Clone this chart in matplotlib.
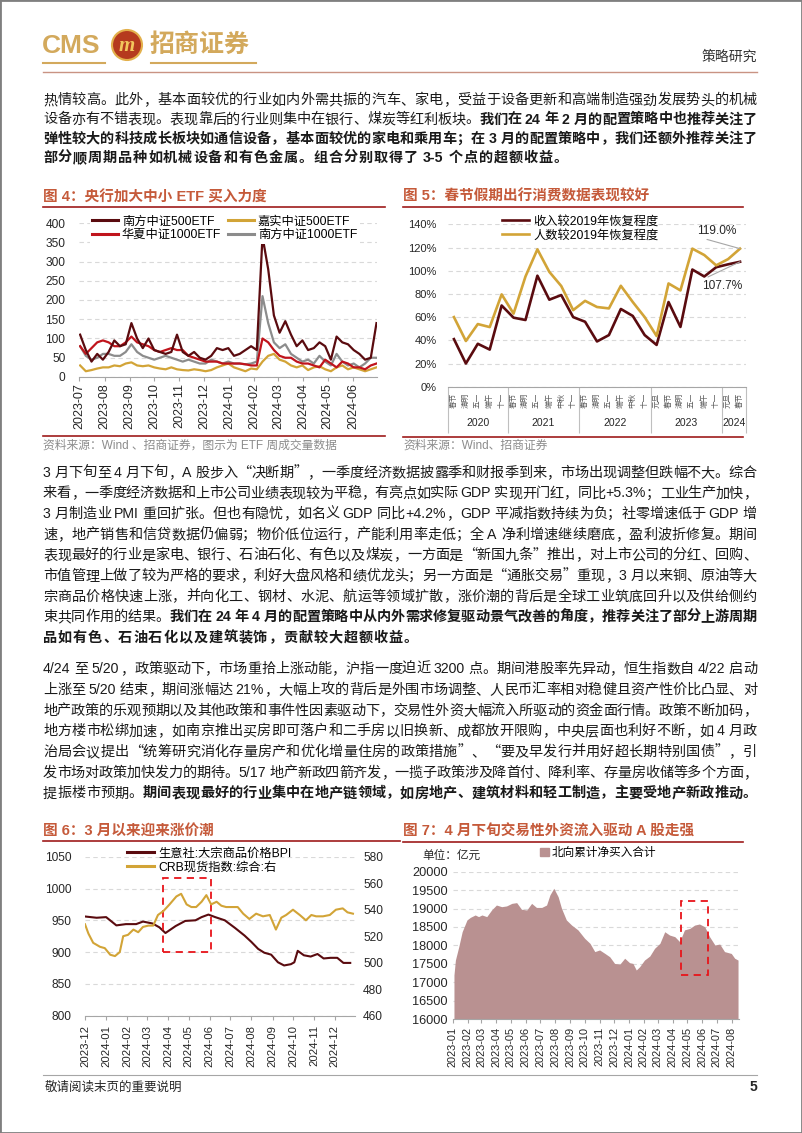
import matplotlib
matplotlib.use('Agg')
import matplotlib.pyplot as plt
import matplotlib.dates as mdates
from matplotlib.patches import Rectangle, Ellipse, Patch
from matplotlib.lines import Line2D
from matplotlib.font_manager import FontProperties
import pandas as pd

plt.rcParams['font.family'] = ['Liberation Sans', 'Noto Sans CJK SC']
plt.rcParams['axes.unicode_minus'] = False

# ---------------- data ----------------
# fig 4: weekly ETF turnover
etf_weeks = pd.date_range('2023-07-02', periods=53, freq='7D')
nf500 = [110, 70, 40, 60, 45, 65, 95, 80, 85, 140, 100, 75, 100, 70, 65, 60, 65, 110, 65, 55,
         65, 50, 45, 55, 75, 70, 75, 55, 60, 70, 80, 70, 365, 280, 160, 115, 145, 110, 80, 95,
         70, 75, 90, 80, 45, 105, 90, 85, 70, 60, 45, 50, 140]
hx1000 = [80, 60, 75, 90, 95, 90, 80, 80, 90, 105, 90, 85, 80, 70, 65, 70, 75, 70, 70, 55,
          50, 45, 40, 40, 40, 35, 35, 35, 35, 33, 30, 30, 100, 90, 70, 55, 50, 50, 40, 35,
          35, 30, 25, 45, 35, 25, 40, 35, 25, 25, 20, 30, 35]
js500 = [30, 15, 18, 22, 25, 25, 30, 28, 35, 38, 30, 28, 30, 25, 22, 20, 25, 20, 18, 17,
         20, 18, 15, 18, 25, 30, 35, 25, 20, 15, 22, 20, 40, 55, 60, 45, 40, 30, 25, 30,
         18, 25, 28, 20, 15, 25, 30, 20, 25, 20, 15, 20, 25]
nf1000 = [80, 55, 45, 50, 60, 60, 55, 55, 65, 85, 65, 55, 50, 45, 50, 55, 50, 45, 40, 45,
          40, 35, 35, 45, 40, 35, 40, 35, 35, 33, 35, 40, 210, 140, 90, 75, 85, 60, 50, 40,
          45, 35, 55, 40, 30, 60, 40, 30, 35, 25, 35, 50, 50]
etf_ticks = pd.date_range('2023-07-01', '2024-06-01', freq='MS')

# fig 5: holiday travel recovery vs 2019 (%)
holidays = ['春节', '清明', '五一', '端午', '十一',
            '春节', '清明', '五一', '端午', '中秋', '十一',
            '春节', '清明', '五一', '端午', '中秋', '十一',
            '元旦', '春节', '清明', '五一', '端午', '十一',
            '元旦', '春节']
years = ['2020', '2021', '2022', '2023', '2024']
year_sizes = [5, 6, 6, 6, 2]
income_rec = [41, 20, 37, 32, 70, 59.5, 57.5, 95.7, 75, 79, 60, 56, 39, 44.5, 67, 61, 44.5,
              36, 73, 51.5, 101, 95, 103, 105.5, 107.7]
people_rec = [60, 39.4, 54, 51.4, 79.6, 63, 95, 118.4, 99, 86.8, 66, 74, 68.7, 67.5, 87, 73,
              60, 43.7, 89, 83, 119, 113.5, 104.6, 110, 119.0]

# fig 6: BPI (left) and CRB spot index (right)
bpi_dates = pd.to_datetime(['2023-12-01', '2023-12-18', '2024-01-01', '2024-01-16', '2024-01-30',
                            '2024-02-14', '2024-02-24', '2024-03-09', '2024-03-19', '2024-03-28',
                            '2024-04-12', '2024-04-26', '2024-05-11', '2024-05-20', '2024-05-30',
                            '2024-06-09', '2024-06-23', '2024-07-08', '2024-07-22', '2024-08-01',
                            '2024-08-11', '2024-08-20', '2024-08-30', '2024-09-09', '2024-09-18',
                            '2024-09-28', '2024-10-03', '2024-10-08', '2024-10-17', '2024-10-27',
                            '2024-11-06', '2024-11-15', '2024-11-25', '2024-12-05', '2024-12-14',
                            '2024-12-24'])
bpi = [956, 954, 955, 942, 944, 944, 948, 945, 939, 930, 941, 949, 950, 955, 959, 955, 950,
       938, 926, 916, 905, 899, 896, 884, 879, 881, 884, 902, 895, 893, 897, 890, 891, 891,
       883, 883]
crb_dates = pd.to_datetime(['2023-12-01', '2023-12-06', '2023-12-13', '2023-12-23', '2023-12-30',
                            '2024-01-07', '2024-01-14', '2024-01-21', '2024-01-26', '2024-02-02',
                            '2024-02-10', '2024-02-17', '2024-02-24', '2024-03-03', '2024-03-10',
                            '2024-03-17', '2024-03-25', '2024-04-03', '2024-04-13', '2024-04-20',
                            '2024-04-28', '2024-05-05', '2024-05-12', '2024-05-20', '2024-05-27',
                            '2024-06-03', '2024-06-11', '2024-06-18', '2024-06-25', '2024-07-05',
                            '2024-07-12', '2024-07-20', '2024-07-29', '2024-08-08', '2024-08-18',
                            '2024-08-28', '2024-09-06', '2024-09-14', '2024-09-21', '2024-10-01',
                            '2024-10-11', '2024-10-20', '2024-10-28', '2024-11-04', '2024-11-14',
                            '2024-11-24', '2024-12-03', '2024-12-13', '2024-12-20', '2024-12-28'])
crb = [529, 522, 515, 512, 511, 506, 505, 508, 520, 521, 525, 523, 527, 528, 528, 536, 539,
       544, 550, 552, 544, 542, 542, 546, 551, 544, 546, 543, 542, 542, 542, 537, 533, 537,
       535, 536, 525, 534, 536, 540, 536, 532, 536, 535, 535, 536, 540, 541, 538, 537]

# fig 7: northbound cumulative net buy (100m yuan)
nb_dates = pd.to_datetime(['2023-01-03', '2023-01-06', '2023-01-13', '2023-01-20', '2023-01-30',
                           '2023-02-06', '2023-02-16', '2023-02-23', '2023-03-02', '2023-03-12',
                           '2023-03-22', '2023-04-01', '2023-04-12', '2023-04-22', '2023-05-03',
                           '2023-05-13', '2023-05-23', '2023-06-03', '2023-06-13', '2023-06-23',
                           '2023-07-04', '2023-07-14', '2023-07-21', '2023-07-29', '2023-08-07',
                           '2023-08-14', '2023-08-24', '2023-09-04', '2023-09-17', '2023-10-01',
                           '2023-10-12', '2023-10-22', '2023-11-01', '2023-11-12', '2023-11-22',
                           '2023-12-02', '2023-12-13', '2023-12-23', '2024-01-02', '2024-01-09',
                           '2024-01-16', '2024-01-23', '2024-02-02', '2024-02-13', '2024-02-23',
                           '2024-03-05', '2024-03-15', '2024-03-25', '2024-04-05', '2024-04-15',
                           '2024-04-25', '2024-05-06', '2024-05-16', '2024-05-26', '2024-06-06',
                           '2024-06-16', '2024-06-27', '2024-07-07', '2024-07-17', '2024-07-31',
                           '2024-08-07', '2024-08-14'])
nb_value = [17195, 17600, 17965, 18370, 18690, 18760, 18825, 18780, 18825, 18780, 18960, 19095,
            19050, 19070, 19140, 19160, 18980, 18960, 19140, 19030, 19030, 19095, 19370, 19550,
            19320, 19005, 18690, 18550, 18420, 18190, 18055, 17830, 17875, 17780, 17690, 17510,
            17490, 17650, 17530, 17510, 17330, 17420, 17600, 17710, 17920, 18055, 18370, 18280,
            18235, 18100, 18420, 18460, 18550, 18580, 18505, 18235, 18010, 18035, 17830, 17780,
            17650, 17600]

# ---------------- style ----------------
W, H = 802, 1133
GOLD_LOGO = '#D3A95C'
TITLE_C = '#C55A3A'
RULE_C = '#9E1B1B'
TEXT_C = '#1a1a1a'
DARK = '#5A0B0F'
GOLD = '#D2A437'
RED = '#C0141C'
GRAY = '#8C8C8C'
NB_C = '#B99191'
GRID_C = '#d9d9d9'
AXIS_C = '#a6a6a6'

fig = plt.figure(figsize=(W / 100, H / 100), dpi=100)
renderer = fig.canvas.get_renderer()


def fx(x):
    return x / W


def fy(y):
    return 1 - y / H


def ax_at(l, t, r, b):
    return fig.add_axes([fx(l), fy(b), (r - l) / W, (b - t) / H])


def hline(x0, x1, y, color, lw):
    fig.add_artist(Line2D([fx(x0), fx(x1)], [fy(y), fy(y)], color=color, lw=lw))


# ---------------- header ----------------
fig.add_artist(Rectangle((0, 0), 1, 1, transform=fig.transFigure, fill=False,
                         edgecolor='#7f7f7f', lw=2))
fig.text(fx(42), fy(46), 'CMS', fontsize=19, weight='bold', color=GOLD_LOGO,
         family='Liberation Sans', ha='left', va='center')
fig.add_artist(Ellipse((fx(127), fy(45)), 30 / W, 30 / H, transform=fig.transFigure,
                       facecolor='#B53A1E', edgecolor='#E3B04B', lw=1.5))
fig.text(fx(127), fy(46), 'm', fontsize=15, weight='bold', style='italic', color='#F2C75C',
         family='Liberation Serif', ha='center', va='center')
fig.text(fx(150), fy(45), '招商证券', fontsize=18, weight='bold', color=GOLD_LOGO,
         family='Noto Sans CJK SC', ha='left', va='center')
hline(43, 105, 63, GOLD_LOGO, 1.5)
hline(151, 256, 63, GOLD_LOGO, 1.5)
fig.text(fx(757), fy(57), '策略研究', fontsize=10, color='#333333',
         family='Noto Sans CJK SC', ha='right', va='center')
hline(43, 757, 72, '#C99383', 1.0)

# ---------------- body text ----------------
BODY = 10.2
EM = BODY * 100 / 72


def tok_split(s):
    toks, buf = [], ''
    for ch in s:
        if ord(ch) < 128 and ch != ' ':
            buf += ch
        else:
            if buf:
                toks.append(buf)
                buf = ''
            toks.append(ch)
    if buf:
        toks.append(buf)
    return toks


def tok_width(t, bold):
    if t == ' ':
        return EM * 0.22
    if ord(t[0]) >= 128:
        return EM
    fp = FontProperties(family='Liberation Sans', size=BODY, weight='bold' if bold else 'normal')
    w, h, d = renderer.get_text_width_height_descent(t, fp, ismath=False)
    return w + 1


def body_line(y, segs, justify=True, x0=43, x1=757):
    toks = []
    for s, b in segs:
        for t in tok_split(s):
            toks.append((t, b))
    widths = [tok_width(t, b) for t, b in toks]
    extra = (x1 - x0 - sum(widths)) / (len(toks) - 1) if justify else EM * 0.06
    x = x0
    for (t, b), w in zip(toks, widths):
        if t != ' ':
            fam = 'Liberation Sans' if ord(t[0]) < 128 else 'Noto Sans CJK SC'
            fig.text(fx(x), fy(y + 5.2), t, fontsize=BODY, family=fam,
                     weight='bold' if b else 'normal', color=TEXT_C, ha='left', va='baseline')
        x += w + extra


R, B = False, True
para1 = [
    ([('热情较高。此外，基本面较优的行业如内外需共振的汽车、家电，受益于设备更新和高端制造强劲发展势头的机械', R)], True),
    ([('设备亦有不错表现。表现靠后的行业则集中在银行、煤炭等红利板块。', R),
      ('我们在 24 年 2 月的配置策略中也推荐关注了', B)], True),
    ([('弹性较大的科技成长板块如通信设备，基本面较优的家电和乘用车；在 3 月的配置策略中，我们还额外推荐关注了', B)], True),
    ([('部分顺周期品种如机械设备和有色金属。组合分别取得了 3-5 个点的超额收益。', B)], False),
]
para2 = [
    ([('3 月下旬至 4 月下旬，A 股步入“决断期”，一季度经济数据披露季和财报季到来，市场出现调整但跌幅不大。综合', R)], True),
    ([('来看，一季度经济数据和上市公司业绩表现较为平稳，有亮点如实际 GDP 实现开门红，同比+5.3%；工业生产加快，', R)], True),
    ([('3 月制造业 PMI 重回扩张。但也有隐忧，如名义 GDP 同比+4.2%，GDP 平减指数持续为负；社零增速低于 GDP 增', R)], True),
    ([('速，地产销售和信贷数据仍偏弱；物价低位运行，产能利用率走低；全 A 净利增速继续磨底，盈利波折修复。期间', R)], True),
    ([('表现最好的行业是家电、银行、石油石化、有色以及煤炭，一方面是“新国九条”推出，对上市公司的分红、回购、', R)], True),
    ([('市值管理上做了较为严格的要求，利好大盘风格和绩优龙头；另一方面是“通胀交易”重现，3 月以来铜、原油等大', R)], True),
    ([('宗商品价格快速上涨，并向化工、钢材、水泥、航运等领域扩散，涨价潮的背后是全球工业筑底回升以及供给侧约', R)], True),
    ([('束共同作用的结果。', R),
      ('我们在 24 年 4 月的配置策略中从内外需求修复驱动景气改善的角度，推荐关注了部分上游周期', B)], True),
    ([('品如有色、石油石化以及建筑装饰，贡献较大超额收益。', B)], False),
]
para3 = [
    ([('4/24 至 5/20，政策驱动下，市场重拾上涨动能，沪指一度迫近 3200 点。期间港股率先异动，恒生指数自 4/22 启动', R)], True),
    ([('上涨至 5/20 结束，期间涨幅达 21%，大幅上攻的背后是外围市场调整、人民币汇率相对稳健且资产性价比凸显、对', R)], True),
    ([('地产政策的乐观预期以及其他政策和事件性因素驱动下，交易性外资大幅流入所驱动的资金面行情。政策不断加码，', R)], True),
    ([('地方楼市松绑加速，如南京推出买房即可落户和二手房以旧换新、成都放开限购，中央层面也利好不断，如 4 月政', R)], True),
    ([('治局会议提出“统筹研究消化存量房产和优化增量住房的政策措施”、“要及早发行并用好超长期特别国债”，引', R)], True),
    ([('发市场对政策加快发力的期待。5/17 地产新政四箭齐发，一揽子政策涉及降首付、降利率、存量房收储等多个方面，', R)], True),
    ([('提振楼市预期。', R),
      ('期间表现最好的行业集中在地产链领域，如房地产、建筑材料和轻工制造，主要受地产新政推动。', B)], True),
]
for y0, step, para in [(99, 19.3, para1), (471.7, 20.6, para2), (668, 20.7, para3)]:
    for i, (segs, just) in enumerate(para):
        body_line(y0 + i * step, segs, just)


# ---------------- chart frames ----------------
def chart_title(x, y, s, x1):
    fig.text(fx(x), fy(y), s, fontsize=10.5, weight='bold', color=TITLE_C,
             ha='left', va='center')
    hline(x, x1, y + 9.5, RULE_C, 1.2)


def source(x, y, s):
    fig.text(fx(x), fy(y), s, fontsize=8.5, color='#8c8c8c', ha='left', va='center')


def base_axes(ax):
    for side in ['top', 'left', 'right']:
        ax.spines[side].set_visible(False)
    ax.spines['bottom'].set_color(AXIS_C)
    ax.grid(axis='y', color=GRID_C, ls=(0, (4, 3)), lw=0.8)
    ax.set_axisbelow(True)


chart_title(43, 197, '图 4：央行加大中小 ETF 买入力度', 385)
chart_title(403, 197, '图 5：春节假期出行消费数据表现较好', 743)
hline(43, 385, 436, RULE_C, 1.2)
hline(403, 743, 437, RULE_C, 1.2)
source(43, 446, '资料来源：Wind 、招商证券，图示为 ETF 周成交量数据')
source(403, 446, '资料来源：Wind、招商证券')
chart_title(43, 831, '图 6：3 月以来迎来涨价潮', 400)
chart_title(403, 832, '图 7：4 月下旬交易性外资流入驱动 A 股走强', 743)

# ---------------- fig 4 ----------------
ax4 = ax_at(79.3, 223, 377.3, 377)
base_axes(ax4)
l_nf1000, = ax4.plot(etf_weeks, nf1000, color=GRAY, lw=1.6, label='南方中证1000ETF')
l_js500, = ax4.plot(etf_weeks, js500, color=GOLD, lw=1.6, label='嘉实中证500ETF')
l_hx1000, = ax4.plot(etf_weeks, hx1000, color=RED, lw=1.6, label='华夏中证1000ETF')
l_nf500, = ax4.plot(etf_weeks, nf500, color=DARK, lw=1.6, label='南方中证500ETF')
ax4.set_ylim(0, 400)
ax4.set_yticks(range(0, 401, 50))
ax4.set_xlim(pd.Timestamp('2023-07-01'), pd.Timestamp('2024-07-01'))
ax4.set_xticks(etf_ticks)
ax4.xaxis.set_major_formatter(mdates.DateFormatter('%Y-%m'))
ax4.tick_params(axis='y', length=0, pad=10, labelsize=8.6, colors='#262626')
ax4.tick_params(axis='x', length=3, pad=1.5, labelsize=9, color=AXIS_C, labelcolor='#262626',
                labelrotation=90)
leg = ax4.legend(handles=[l_nf500, l_hx1000, l_js500, l_nf1000], ncol=2, loc='upper left',
                 bbox_to_anchor=(fx(90), fy(213)), bbox_transform=fig.transFigure,
                 fontsize=8.8, handlelength=2.1, handletextpad=0.3, columnspacing=0.6,
                 labelspacing=0.15, borderpad=0.2, borderaxespad=0, frameon=True, fancybox=False)
leg.get_frame().set_facecolor('white')
leg.get_frame().set_edgecolor('none')
leg.get_frame().set_alpha(1)
for ln in leg.get_lines():
    ln.set_linewidth(2.2)

# ---------------- fig 5 ----------------
ax5 = ax_at(448, 224.3, 746, 386.7)
base_axes(ax5)
xs = list(range(len(holidays)))
ax5.plot(xs, income_rec, color=DARK, lw=1.9, label='收入较2019年恢复程度')
ax5.plot(xs, people_rec, color=GOLD, lw=1.9, label='人数较2019年恢复程度')
ax5.set_ylim(0, 140)
ax5.set_yticks(range(0, 141, 20))
ax5.set_yticklabels([f'{v}%' for v in range(0, 141, 20)])
ax5.set_xlim(-0.5, len(holidays) - 0.5)
ax5.set_xticks(xs)
ax5.set_xticklabels(holidays, rotation=90, fontsize=5.5, color='#595959')
bounds = [-0.5]
for n in year_sizes:
    bounds.append(bounds[-1] + n)
ax5.set_xticks(bounds, minor=True)
ax5.tick_params(axis='x', which='major', length=0, pad=4.5)
ax5.tick_params(axis='x', which='minor', length=33, color='#bfbfbf', width=0.8)
ax5.tick_params(axis='y', length=0, pad=8, labelsize=8, colors='#262626')
trans5 = ax5.get_xaxis_transform()
for yr, a, b in zip(years, bounds[:-1], bounds[1:]):
    ax5.text((a + b) / 2, -0.225, yr, transform=trans5, ha='center', va='center',
             fontsize=7.5, color='#262626')
ax5.legend(loc='upper left', bbox_to_anchor=(fx(500), fy(213)), bbox_transform=fig.transFigure,
           fontsize=8.8, handlelength=2.2, handletextpad=0.3, labelspacing=0.15, borderpad=0.2,
           borderaxespad=0, frameon=False)
last = len(holidays) - 1
ax5.annotate(f'{people_rec[-1]:.1f}%', xy=(last, people_rec[-1]), xytext=(-43, 12),
             textcoords='offset pixels', ha='left', va='bottom', fontsize=8.6, color='#262626',
             arrowprops=dict(arrowstyle='-', color='#a6a6a6', lw=0.8, relpos=(0, 0),
                             shrinkA=0, shrinkB=0))
ax5.annotate(f'{income_rec[-1]:.1f}%', xy=(last, income_rec[-1]), xytext=(-38, -18),
             textcoords='offset pixels', ha='left', va='top', fontsize=8.6, color='#262626',
             arrowprops=dict(arrowstyle='-', color='#a6a6a6', lw=0.8, relpos=(0, 1),
                             shrinkA=0, shrinkB=0))

# ---------------- fig 6 ----------------
ax6 = ax_at(85, 856.7, 355, 1015.7)
base_axes(ax6)
ax6r = ax6.twinx()
for side in ['top', 'left', 'right', 'bottom']:
    ax6r.spines[side].set_visible(False)
l_bpi, = ax6.plot(bpi_dates, bpi, color=DARK, lw=1.5, label='生意社:大宗商品价格BPI')
l_crb, = ax6r.plot(crb_dates, crb, color=GOLD, lw=1.5, label='CRB现货指数:综合:右')
ax6.set_ylim(800, 1050)
ax6.set_yticks(range(800, 1051, 50))
ax6r.set_ylim(460, 580)
ax6r.set_yticks(range(460, 581, 20))
ax6.set_xlim(pd.Timestamp('2023-12-01'), pd.Timestamp('2024-12-31'))
ax6.set_xticks(pd.date_range('2023-12-01', '2024-12-01', freq='MS'))
ax6.xaxis.set_major_formatter(mdates.DateFormatter('%Y-%m'))
ax6.tick_params(axis='y', length=0, pad=9.5, labelsize=8.6, colors='#262626')
ax6r.tick_params(axis='y', length=0, pad=5.8, labelsize=8.6, colors='#262626')
ax6.tick_params(axis='x', length=3, pad=3.5, labelsize=8.2, color=AXIS_C, labelcolor='#262626',
                labelrotation=90)
box6_x0 = mdates.date2num(pd.Timestamp('2024-03-25'))
box6_x1 = mdates.date2num(pd.Timestamp('2024-06-03'))
ax6.add_patch(Rectangle((box6_x0, 900), box6_x1 - box6_x0, 117, fill=False,
                        edgecolor='#E8141A', ls=(0, (4, 3)), lw=1.3, zorder=5))
ax6r.legend(handles=[l_bpi, l_crb], loc='upper left', bbox_to_anchor=(fx(125), fy(845)),
            bbox_transform=fig.transFigure, fontsize=8.8, handlelength=2.2, handletextpad=0.3,
            labelspacing=0.15, borderpad=0.2, borderaxespad=0, frameon=False)
for ln in ax6r.get_legend().get_lines():
    ln.set_linewidth(2.2)

# ---------------- fig 7 ----------------
ax7 = ax_at(453, 871.7, 739, 1019)
base_axes(ax7)
ax7.fill_between(nb_dates, nb_value, 16000, color=NB_C, lw=0)
ax7.set_ylim(16000, 20000)
ax7.set_yticks(range(16000, 20001, 500))
ax7.set_xlim(pd.Timestamp('2023-01-01'), pd.Timestamp('2024-08-16'))
ax7.set_xticks(pd.date_range('2023-01-01', '2024-08-01', freq='MS'))
ax7.xaxis.set_major_formatter(mdates.DateFormatter('%Y-%m'))
ax7.tick_params(axis='y', length=0, pad=3.6, labelsize=9.2, colors='#262626')
ax7.tick_params(axis='x', length=3, pad=2.5, labelsize=7.9, color=AXIS_C, labelcolor='#262626',
                labelrotation=90)
box7_x0 = mdates.date2num(pd.Timestamp('2024-04-18'))
box7_x1 = mdates.date2num(pd.Timestamp('2024-06-12'))
ax7.add_patch(Rectangle((box7_x0, 17195), box7_x1 - box7_x0, 2020, fill=False,
                        edgecolor='#E8141A', ls=(0, (4, 3)), lw=1.3, zorder=5))
ax7.legend(handles=[Patch(color=NB_C, label='北向累计净买入合计')], loc='upper left',
           bbox_to_anchor=(fx(538), fy(845)), bbox_transform=fig.transFigure, fontsize=8.4,
           handlelength=0.7, handleheight=0.7, handletextpad=0.3, borderpad=0.2,
           borderaxespad=0, frameon=False)
fig.text(fx(422), fy(856), '单位：亿元', fontsize=8.4, color='#262626', ha='left', va='center')

# ---------------- footer ----------------
hline(43, 757, 1075, '#a6a6a6', 0.8)
fig.text(fx(45), fy(1087), '敬请阅读末页的重要说明', fontsize=9, color='#262626',
         family='Noto Sans CJK SC', ha='left', va='center')
fig.text(fx(757), fy(1087), '5', fontsize=10, weight='bold', color='#262626',
         ha='right', va='center')

fig.savefig('out.png', dpi=100)
